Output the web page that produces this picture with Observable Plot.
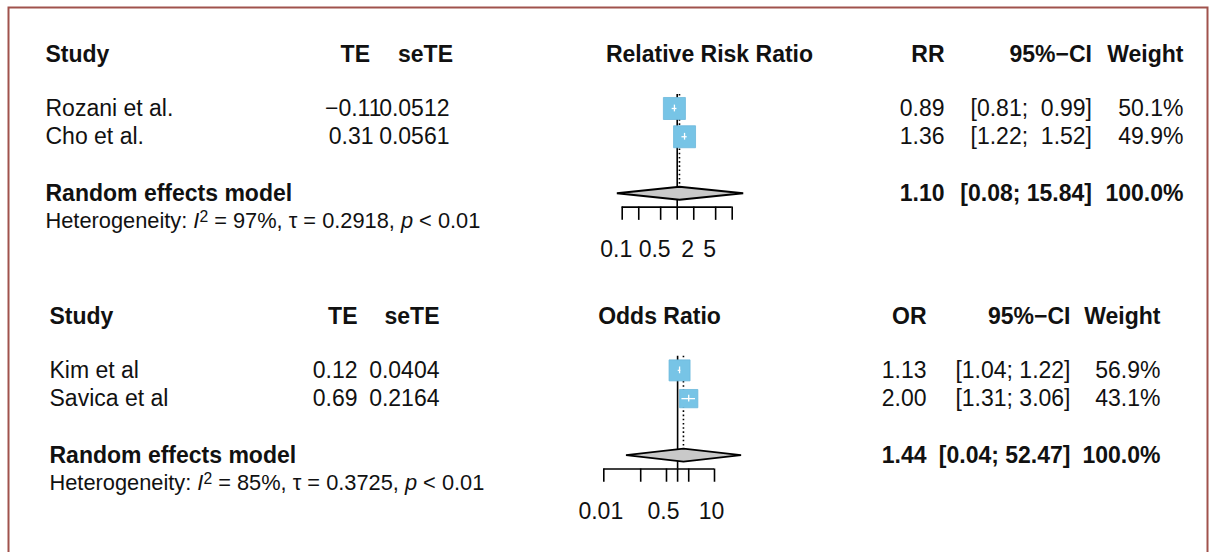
<!DOCTYPE html>
<html>
<head>
<meta charset="utf-8">
<script src="https://cdn.jsdelivr.net/npm/d3@7"></script>
<script src="https://cdn.jsdelivr.net/npm/@observablehq/plot@0.6"></script>
<style>
  html, body { margin: 0; padding: 0; background: #fff; }
  #chart { position: relative; width: 1214px; height: 552px; overflow: hidden; background: #fff; }
  #chart svg { position: absolute; left: 0; top: 0; }
</style>
</head>
<body>
<div id="chart"></div>
<script>
// ---------------- data ----------------
// Panel 1: relative risk ratio
const rrStudies = ["Rozani et al.", "Cho et al."];
const rrTE = [-0.11, 0.31];
const rrSeTE = [0.0512, 0.0561];
const rrEst = [0.89, 1.36];
const rrLower = [0.81, 1.22];
const rrUpper = [0.99, 1.52];
const rrWeight = [50.1, 49.9];
const rrPooled = [1.10, 0.08, 15.84, 100.0];   // estimate, lower, upper, weight
const rrHet = [97, "0.2918", "< 0.01"];          // I², tau, p
const rrTicks = [0.1, 0.2, 0.5, 1, 2, 5, 10];
const rrTickLabels = [0.1, 0.5, 2, 5];

// Panel 2: odds ratio
const orStudies = ["Kim et al", "Savica et al"];
const orTE = [0.12, 0.69];
const orSeTE = [0.0404, 0.2164];
const orEst = [1.13, 2.00];
const orLower = [1.04, 1.31];
const orUpper = [1.22, 3.06];
const orWeight = [56.9, 43.1];
const orPooled = [1.44, 0.04, 52.47, 100.0];
const orHet = [85, "0.3725", "< 0.01"];
const orTicks = [0.01, 0.1, 0.5, 1, 2, 10];
const orTickLabels = [0.01, 0.5, 10];

// ---------------- layout / style ----------------
const FONT = "'Liberation Sans', Arial, Helvetica, sans-serif";
const FS = 23;
const FS_HET = 21.8;
const INK = "#111";
const ROW = 28.25, ROW0 = 51.5;
const Y = {type: "linear", domain: [0, 17], range: [ROW0, ROW0 + 17 * ROW], axis: null};
const R = {header: 0.09, study: [2, 3], pooled: 5, het: 6, refTop: 1.5, axis: 5.49, tick: 0.47, labels: 7, diamondH: 0.23, plusH: 0.12};

const panels = [
  {title: "Relative Risk Ratio", eff: "RR", studies: rrStudies, te: rrTE, se: rrSeTE, est: rrEst, lo: rrLower, hi: rrUpper, w: rrWeight, pooled: rrPooled, het: rrHet, ticks: rrTicks, labels: rrTickLabels,
   L: {offset: 0, left: 45, teHead: 369.5, te: 373, negShift: 8, seHead: 452.5, se: 449, title: 709, eff: 944, ci: 1091.5, wt: 1183, ciGap: "  ", xRange: [621.7, 731.7], sqRef: 50, sqSide: 22, labelDx: -6}},
  {title: "Odds Ratio", eff: "OR", studies: orStudies, te: orTE, se: orSeTE, est: orEst, lo: orLower, hi: orUpper, w: orWeight, pooled: orPooled, het: orHet, ticks: orTicks, labels: orTickLabels,
   L: {offset: 9.27, left: 49, teHead: 357, te: 357, negShift: 5, seHead: 439, se: 439, title: 659, eff: 926, ci: 1070, wt: 1160, ciGap: " ", xRange: [603.3, 714], sqRef: 56.9, sqSide: 21, labelDx: -3}}
];

const f1 = d3.format(".1f"), f2 = d3.format(".2f"), f4 = d3.format(".4f");

// ---------------- text table ----------------
const cells = [];
const hetCells = [];
panels.forEach(p => {
  const L = p.L, o = L.offset;
  const add = (x, r, text, anchor, bold) => cells.push({x, y: o + r, text, anchor, bold});
  add(L.left, R.header, "Study", "start", true);
  add(L.teHead, R.header, "TE", "end", true);
  add(L.seHead, R.header, "seTE", "end", true);
  add(L.title, R.header, p.title, "middle", true);
  add(L.eff, R.header, p.eff, "end", true);
  add(L.ci, R.header, "95%\u2212CI", "end", true);
  add(L.wt, R.header, "Weight", "end", true);
  p.studies.forEach((s, i) => {
    const r = R.study[i];
    add(L.left, r, s, "start", false);
    add(L.te + (p.te[i] < 0 ? L.negShift : 0), r, f2(p.te[i]), "end", false);
    add(L.se, r, f4(p.se[i]), "end", false);
    add(L.eff, r, f2(p.est[i]), "end", false);
    add(L.ci, r, `[${f2(p.lo[i])};${L.ciGap}${f2(p.hi[i])}]`, "end", false);
    add(L.wt, r, f1(p.w[i]) + "%", "end", false);
  });
  const [pe, pl, pu, pw] = p.pooled;
  add(L.left, R.pooled, "Random effects model", "start", true);
  add(L.eff, R.pooled, f2(pe), "end", true);
  add(L.ci, R.pooled, `[${f2(pl)}; ${f2(pu)}]`, "end", true);
  add(L.wt, R.pooled, f1(pw) + "%", "end", true);
  hetCells.push({x: L.left, y: o + R.het, i2: p.het[0], tau: p.het[1], pv: p.het[2]});
});

const textMarks = [];
for (const anchor of ["start", "middle", "end"]) {
  for (const bold of [true, false]) {
    const sub = cells.filter(d => d.anchor === anchor && d.bold === bold);
    if (!sub.length) continue;
    textMarks.push(Plot.text(sub, {x: "x", y: "y", text: "text", textAnchor: anchor,
      fontWeight: bold ? "bold" : "normal", fontSize: FS, fontFamily: FONT, fill: INK}));
  }
}
textMarks.push(Plot.text(hetCells, {x: "x", y: "y",
  text: d => `Heterogeneity: I2 = ${d.i2}%, \u03c4 = ${d.tau}, p ${d.pv}`,
  textAnchor: "start", fontSize: FS_HET, fontFamily: FONT, fill: INK, className: "het"}));

const base = Plot.plot({
  width: 1214, height: 552, margin: 0,
  style: "background:transparent;overflow:visible",
  x: {type: "identity", axis: null},
  y: Y,
  marks: [
    Plot.frame({stroke: "#a0524c", strokeWidth: 2, insetLeft: 8, insetTop: 7, insetRight: 7, insetBottom: -20}),
    ...textMarks
  ]
});

// heterogeneity line: italic I and p, superscript 2
d3.select(base).selectAll("g.het text").each(function(d, i) {
  const h = hetCells[i];
  const t = d3.select(this);
  t.text(null);
  t.append("tspan").text("Heterogeneity: ");
  t.append("tspan").attr("font-style", "italic").text("I");
  t.append("tspan").attr("font-size", "0.72em").attr("dy", "-0.42em").text("2");
  t.append("tspan").attr("dy", "0.3em").text(` = ${h.i2}%, \u03c4 = ${h.tau}, `);
  t.append("tspan").attr("font-style", "italic").text("p");
  t.append("tspan").text(` ${h.pv}`);
});

// ---------------- forest overlays ----------------
function forest(p) {
  const L = p.L, o = L.offset;
  const [pe, pl, pu] = p.pooled;
  const studyRows = p.studies.map((s, i) => ({name: s, est: p.est[i], lo: p.lo[i], hi: p.hi[i], w: p.w[i], y: o + R.study[i]}));
  const yRE = o + R.pooled, yAx = o + R.axis;
  const diamond = [
    {x: pl, y: yRE}, {x: pe, y: yRE - R.diamondH}, {x: pu, y: yRE}, {x: pe, y: yRE + R.diamondH}
  ];
  const dom = [d3.min(p.ticks), d3.max(p.ticks)];
  return Plot.plot({
    width: 1214, height: 552, margin: 0,
    style: "background:transparent;overflow:visible;pointer-events:none",
    x: {type: "log", domain: dom, range: L.xRange, axis: null},
    y: Y,
    r: {type: "sqrt", domain: [0, L.sqRef], range: [0, L.sqSide / Math.sqrt(Math.PI)]},
    marks: [
      Plot.ruleX([1], {y1: o + R.refTop, y2: yAx, stroke: "#000", strokeWidth: 1.6}),
      Plot.ruleX([pe], {y1: o + R.refTop, y2: yRE - R.diamondH, stroke: "#000", strokeWidth: 1.6, strokeDasharray: "1.6,2.6"}),
      Plot.line(diamond, {x: "x", y: "y", curve: "linear-closed", fill: "#c9c9c9", stroke: "#000", strokeWidth: 1.9, strokeLinejoin: "miter"}),
      Plot.dot(studyRows, {x: "est", y: "y", r: "w", symbol: "square", fill: "#77c4e6", stroke: "#6bb8dc", strokeWidth: 0.8}),
      Plot.ruleY(studyRows, {y: "y", x1: "lo", x2: "hi", stroke: "#fff", strokeWidth: 1.3}),
      Plot.ruleX(studyRows, {x: "est", y1: d => d.y - R.plusH, y2: d => d.y + R.plusH, stroke: "#fff", strokeWidth: 1.3}),
      Plot.ruleY([yAx], {x1: dom[0], x2: dom[1], stroke: "#000", strokeWidth: 1.6}),
      Plot.ruleX(p.ticks, {y1: yAx, y2: yAx + R.tick, stroke: "#000", strokeWidth: 1.6}),
      Plot.text(p.labels, {x: d => d, y: o + R.labels, text: d => String(d), dx: L.labelDx,
        fontSize: FS, fontFamily: FONT, fill: INK})
    ]
  });
}

const chart = document.getElementById("chart");
chart.appendChild(base);
panels.forEach(p => chart.appendChild(forest(p)));
</script>
</body>
</html>
